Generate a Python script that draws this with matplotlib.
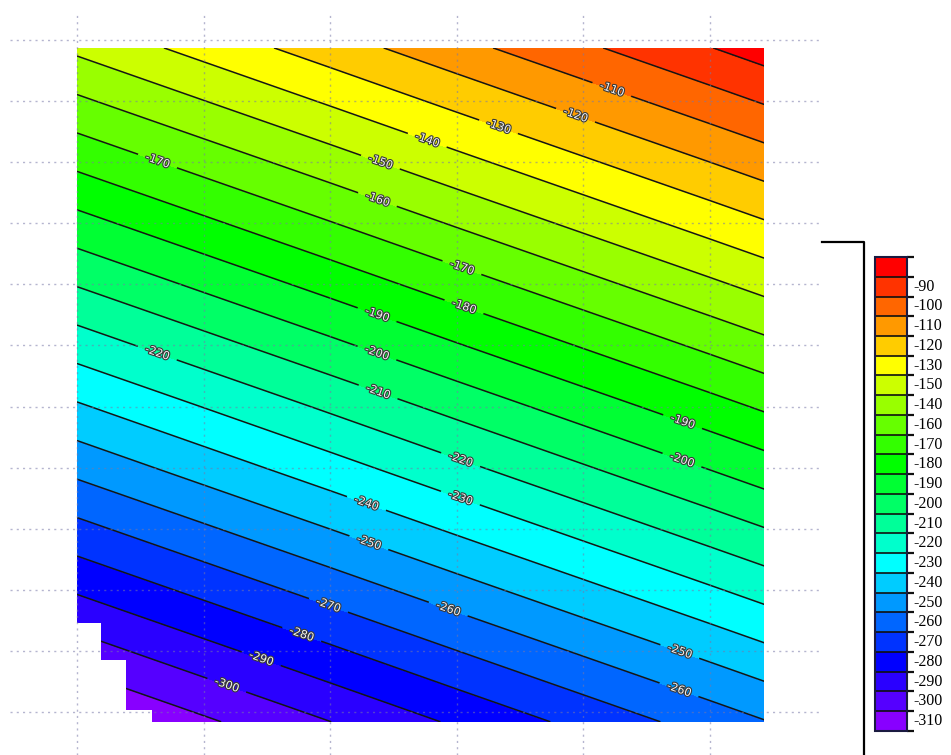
import numpy as np
import matplotlib
matplotlib.use("Agg")
import matplotlib.pyplot as plt
from matplotlib.colors import ListedColormap, BoundaryNorm
from matplotlib.patches import Polygon
from matplotlib.lines import Line2D
from matplotlib.transforms import blended_transform_factory
import matplotlib.patheffects as pe

# ---------------- data ----------------
x_nodes = [0, 100, 200, 300, 400, 500, 543]
y_nodes = [-16, 100, 200, 300, 400, 500, 600, 700, 800, 900, 1000, 1087]
z_values = [
    [-323.1, -311.6, -300.1, -288.5, -277.0, -265.5, -260.5],
    [-304.7, -293.2, -281.7, -270.1, -258.6, -247.1, -242.1],
    [-288.8, -277.3, -265.8, -254.2, -242.7, -231.2, -226.2],
    [-272.9, -261.4, -249.9, -238.3, -226.8, -215.3, -210.3],
    [-257.0, -245.5, -234.0, -222.4, -210.9, -199.4, -194.4],
    [-241.2, -229.7, -218.2, -206.6, -195.1, -183.6, -178.6],
    [-225.3, -213.8, -202.3, -190.7, -179.2, -167.7, -162.7],
    [-209.4, -197.9, -186.4, -174.8, -163.3, -151.8, -146.8],
    [-193.5, -182.0, -170.5, -158.9, -147.4, -135.9, -130.9],
    [-177.6, -166.1, -154.6, -143.0, -131.5, -120.0, -115.0],
    [-161.7, -150.2, -138.7, -127.1, -115.6, -104.1, -99.1],
    [-147.9, -136.4, -124.9, -113.3, -101.8, -90.3, -85.3],
]
# outline of the mapped area (with the stepped lower-left corner)
domain_x = [0, 543, 543, 59, 59, 39, 39, 19, 19, 0]
domain_y = [1087, 1087, -16, -16, 3, 3, 85, 85, 146, 146]

levels = list(range(-320, -79, 10))
band_colors = ["#8800FF", "#5500FF", "#2A00FF", "#0000FF", "#0033FF", "#0066FF",
               "#0099FF", "#00CCFF", "#00FFFF", "#00FFCC", "#00FF99", "#00FF66",
               "#00FF33", "#00FF00", "#33FF00", "#66FF00", "#99FF00", "#CCFF00",
               "#FFFF00", "#FFCC00", "#FF9900", "#FF6600", "#FF3300", "#FF0000"]
cbar_labels = ["-90", "-100", "-110", "-120", "-130", "-150", "-140", "-160",
               "-170", "-180", "-190", "-200", "-210", "-220", "-230", "-240",
               "-250", "-260", "-270", "-280", "-290", "-300", "-310"]
grid_x = [0, 100, 200, 300, 400, 500]
grid_y = [0, 100, 200, 300, 400, 500, 600, 700, 800, 900, 1000, 1100]

# label anchor spots (layout)
label_spots = [(421, 1010), (392, 966), (332, 952), (275, 926), (238, 890),
               (235, 825), (62, 892), (302, 715), (304, 653), (235, 638),
               (235, 576), (235, 507), (62, 579), (301, 401), (301, 339),
               (233, 367), (235, 303), (476, 461), (476, 401), (476, 98),
               (476, 39), (291, 155), (196, 159), (176, 118), (143, 72),
               (117, 36)]

# ---------------- figure ----------------
fig = plt.figure(figsize=(9.51, 7.55), dpi=100)
ax = fig.add_axes([0.0105, 0.0, 0.8517, 0.9801])
ax.set_xlim(-52.9, 586.9)
ax.set_ylim(-70.4, 1140.8)
ax.set_axis_off()

X, Y = np.meshgrid(x_nodes, y_nodes)
Z = np.array(z_values)
cmap = ListedColormap(band_colors)
norm = BoundaryNorm(levels, cmap.N)

clip = Polygon(np.column_stack([domain_x, domain_y]), closed=True,
               transform=ax.transData, facecolor="none", edgecolor="none")

cf = ax.contourf(X, Y, Z, levels=levels, cmap=cmap, norm=norm, zorder=1)
cf.set_clip_path(clip)
cs = ax.contour(X, Y, Z, levels=levels[1:-1], colors="#151515",
                linewidths=1.1, linestyles="solid", zorder=2)
cs.set_clip_path(clip)
texts = ax.clabel(cs, manual=label_spots, inline=True, fontsize=8,
                  fmt="%d", inline_spacing=8, colors="#f2f2f2")
for t in texts:
    t.set_path_effects([pe.withStroke(linewidth=1.6, foreground="#3a3a3a")])
    t.set_zorder(4)

for gx in grid_x:
    ax.axvline(gx, color="#7878a8", lw=1.0, ls=(0, (1.5, 3.0)), alpha=0.55, zorder=3)
for gy in grid_y:
    ax.axhline(gy, color="#7878a8", lw=1.0, ls=(0, (1.5, 3.0)), alpha=0.55, zorder=3)

# ---------------- colour bar ----------------
cax = fig.add_axes([0.9201, 0.0318, 0.03365, 0.6278])
cb = fig.colorbar(cf, cax=cax, drawedges=True)
cb.outline.set_edgecolor("#1a1a40")
cb.outline.set_linewidth(1.5)
cb.dividers.set_color("#101010")
cb.dividers.set_linewidth(1.2)
cb.set_ticks(levels, labels=[""] * len(levels))
cax.tick_params(axis="y", length=5, width=1.6, color="#101010", direction="out")
tr = blended_transform_factory(cax.transAxes, cax.transData)
for i, lab in enumerate(cbar_labels):
    cax.text(1.2, -95 - 10 * i, lab, transform=tr, ha="left", va="center",
             fontsize=11.5, family="Liberation Serif", color="black")

fig.add_artist(Line2D([0.8644, 0.9085, 0.9085], [0.6795, 0.6795, 0.0],
                      color="black", lw=1.6, transform=fig.transFigure))

fig.savefig("out.png", dpi=100)
